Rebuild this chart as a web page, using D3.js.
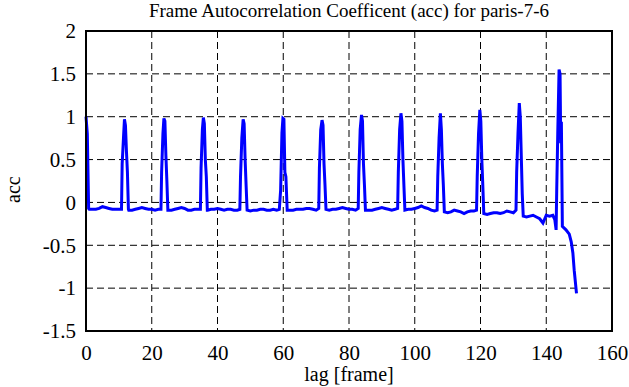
<!DOCTYPE html>
<html>
<head>
<meta charset="utf-8">
<script src="https://d3js.org/d3.v7.min.js"></script>
<style>
  html, body { margin: 0; padding: 0; background: #fff; }
</style>
</head>
<body>
<div id="chart"></div>
<script>
// lag positions (frames) and autocorrelation values
var lags = [
  0, 0.4, 0.8, 1, 2, 3, 4, 5, 6, 7, 8, 9, 10, 10.8,
  11.0, 11.4, 11.7, 12.0, 12.3, 12.6, 12.9,
  13, 14, 15, 16, 17, 18, 19, 20, 21, 22, 22.8,
  23.0, 23.4, 23.7, 24.0, 24.3, 24.6, 24.9,
  25, 26, 27, 28, 29, 30, 31, 32, 33, 34, 34.8,
  35.0, 35.4, 35.7, 36.0, 36.3, 36.6, 36.9,
  37, 38, 39, 40, 41, 42, 43, 44, 45, 46, 46.8,
  47.0, 47.4, 47.8, 48.1, 48.4, 48.7, 49.0,
  50, 51, 52, 53, 54, 55, 56, 57, 58, 58.8,
  59.2, 59.6, 59.9, 60.2, 60.5, 60.8, 61.2,
  62, 63, 64, 65, 66, 67, 68, 69, 70, 70.8,
  71.0, 71.4, 71.8, 72.1, 72.4, 72.7, 73.0,
  74, 75, 76, 77, 78, 79, 80, 81, 82, 82.8,
  83.0, 83.4, 83.8, 84.1, 84.4, 84.7, 85.0,
  86, 87, 88, 89, 90, 91, 92, 93, 94, 94.8,
  95.0, 95.4, 95.8, 96.1, 96.4, 96.7, 97.0,
  98, 99, 100, 101, 102, 103, 104, 105, 106, 106.8,
  107.0, 107.4, 107.8, 108.1, 108.4, 108.7, 109.0,
  110, 111, 112, 113, 114, 115, 116, 117, 118, 118.8,
  119.0, 119.4, 119.8, 120.1, 120.4, 120.7, 121.0,
  122, 123, 124, 125, 126, 127, 128, 129, 130, 130.8,
  131.0, 131.4, 131.8, 132.1, 132.4, 132.7, 133.0,
  134, 135, 136, 137, 138, 139, 140, 141, 142, 142.6, 143.0,
  143.2, 143.5, 143.9, 144.2, 144.4, 144.6, 144.9,
  146, 147, 147.6, 148.1, 148.5, 149.2
];
var accValues = [
  1.00, 0.80, -0.07, -0.08, -0.08, -0.08, -0.07, -0.05, -0.06, -0.07, -0.08, -0.08, -0.08, -0.08,
  0.45, 0.75, 0.97, 0.90, 0.60, 0.35, -0.08,
  -0.09, -0.09, -0.08, -0.07, -0.06, -0.07, -0.08, -0.08, -0.09, -0.08, -0.08,
  0.35, 0.80, 0.98, 0.95, 0.55, 0.25, -0.09,
  -0.09, -0.09, -0.08, -0.07, -0.06, -0.07, -0.09, -0.09, -0.08, -0.08, -0.08,
  0.40, 0.85, 0.99, 0.92, 0.50, 0.30, -0.09,
  -0.09, -0.08, -0.08, -0.07, -0.08, -0.09, -0.08, -0.08, -0.09, -0.09, -0.08,
  0.30, 0.75, 0.97, 0.92, 0.50, 0.20, -0.09,
  -0.10, -0.09, -0.09, -0.08, -0.08, -0.09, -0.09, -0.08, -0.09, -0.08,
  0.14, 0.81, 0.98, 0.97, 0.35, 0.30, -0.09,
  -0.09, -0.09, -0.08, -0.08, -0.08, -0.07, -0.07, -0.08, -0.09, -0.07,
  0.40, 0.85, 0.96, 0.90, 0.45, 0.20, -0.08,
  -0.09, -0.08, -0.08, -0.07, -0.06, -0.07, -0.08, -0.08, -0.09, -0.07,
  0.35, 0.85, 1.02, 0.95, 0.45, 0.20, -0.09,
  -0.09, -0.09, -0.08, -0.07, -0.06, -0.07, -0.08, -0.09, -0.08, -0.07,
  0.35, 0.85, 1.04, 0.95, 0.50, 0.20, -0.09,
  -0.08, -0.08, -0.07, -0.06, -0.04, -0.06, -0.07, -0.09, -0.10, -0.09,
  0.30, 0.75, 1.04, 0.85, 0.45, 0.20, -0.11,
  -0.12, -0.11, -0.09, -0.10, -0.11, -0.13, -0.11, -0.10, -0.10, -0.09,
  0.30, 0.80, 1.08, 0.95, 0.50, 0.20, -0.13,
  -0.14, -0.13, -0.12, -0.12, -0.13, -0.12, -0.10, -0.11, -0.12, -0.09,
  0.35, 0.80, 1.16, 1.00, 0.55, 0.10, -0.16,
  -0.17, -0.16, -0.15, -0.17, -0.19, -0.24, -0.15, -0.16, -0.15, -0.20, -0.32,
  0.18, 0.80, 1.55, 1.50, 0.69, 0.94, -0.28,
  -0.32, -0.37, -0.46, -0.59, -0.79, -1.06
];
var xTicks = [0, 20, 40, 60, 80, 100, 120, 140, 160];
var yTicks = [-1.5, -1, -0.5, 0, 0.5, 1, 1.5, 2];

var titleText = "Frame Autocorrelation Coefficent (acc) for paris-7-6";
var xTitle = "lag [frame]";
var yTitle = "acc";

var serif = "'Liberation Serif', 'DejaVu Serif', serif";
var width = 629, height = 387;
var margin = { top: 31, right: 17, bottom: 56, left: 86 };
var plotW = width - margin.left - margin.right;
var plotH = height - margin.top - margin.bottom;

var svg = d3.select("#chart")
  .append("svg")
  .attr("width", width)
  .attr("height", height)
  .style("background", "#fff");

var g = svg.append("g")
  .attr("transform", "translate(" + margin.left + "," + margin.top + ")");

var x = d3.scaleLinear().domain([0, 160]).range([0, plotW]);
var y = d3.scaleLinear().domain([-1.5, 2]).range([plotH, 0]);

// dashed grid
g.append("g")
  .selectAll("line")
  .data(xTicks.slice(1, -1))
  .enter()
  .append("line")
  .attr("x1", function (d) { return x(d); })
  .attr("x2", function (d) { return x(d); })
  .attr("y1", 0)
  .attr("y2", plotH)
  .attr("stroke", "#000")
  .attr("stroke-width", 1)
  .attr("stroke-dasharray", "7,4");

g.append("g")
  .selectAll("line")
  .data(yTicks.slice(1, -1))
  .enter()
  .append("line")
  .attr("x1", 0)
  .attr("x2", plotW)
  .attr("y1", function (d) { return y(d); })
  .attr("y2", function (d) { return y(d); })
  .attr("stroke", "#000")
  .attr("stroke-width", 1)
  .attr("stroke-dasharray", "7,4");

// the series
var points = lags.map(function (l, i) { return { lag: l, acc: accValues[i] }; });
g.append("path")
  .datum(points)
  .attr("d", d3.line()
    .x(function (d) { return x(d.lag); })
    .y(function (d) { return y(d.acc); }))
  .attr("fill", "none")
  .attr("stroke", "#0000ff")
  .attr("stroke-width", 3)
  .attr("stroke-linejoin", "miter");

// axes without domain / tick lines, labels only
var xAxis = g.append("g")
  .attr("transform", "translate(0," + plotH + ")")
  .call(d3.axisBottom(x).tickValues(xTicks).tickSize(0).tickPadding(14).tickFormat(d3.format("d")));
xAxis.attr("font-family", serif).attr("font-size", 21);
xAxis.select(".domain").remove();
xAxis.selectAll("text")
  .style("font-family", serif)
  .style("font-size", "21px")
  .attr("fill", "#000")
  .attr("dy", "0.71em");

var yAxis = g.append("g")
  .call(d3.axisLeft(y).tickValues(yTicks).tickSize(0).tickPadding(10).tickFormat(function (d) { return String(d); }));
yAxis.attr("font-family", serif).attr("font-size", 21);
yAxis.select(".domain").remove();
yAxis.selectAll("text")
  .style("font-family", serif)
  .style("font-size", "21px")
  .attr("fill", "#000");

// frame
g.append("rect")
  .attr("x", 0)
  .attr("y", 0)
  .attr("width", plotW)
  .attr("height", plotH)
  .attr("fill", "none")
  .attr("stroke", "#000")
  .attr("stroke-width", 2);

// titles
svg.append("text")
  .attr("x", margin.left + plotW / 2)
  .attr("y", 17)
  .attr("text-anchor", "middle")
  .style("font-family", serif)
  .style("font-size", "19px")
  .text(titleText);

svg.append("text")
  .attr("x", margin.left + plotW / 2)
  .attr("y", 381)
  .attr("text-anchor", "middle")
  .style("font-family", serif)
  .style("font-size", "20px")
  .text(xTitle);

svg.append("text")
  .attr("transform", "translate(20," + (margin.top + y(0.15)) + ") rotate(-90)")
  .attr("text-anchor", "middle")
  .style("font-family", serif)
  .style("font-size", "20px")
  .text(yTitle);
</script>
</body>
</html>
